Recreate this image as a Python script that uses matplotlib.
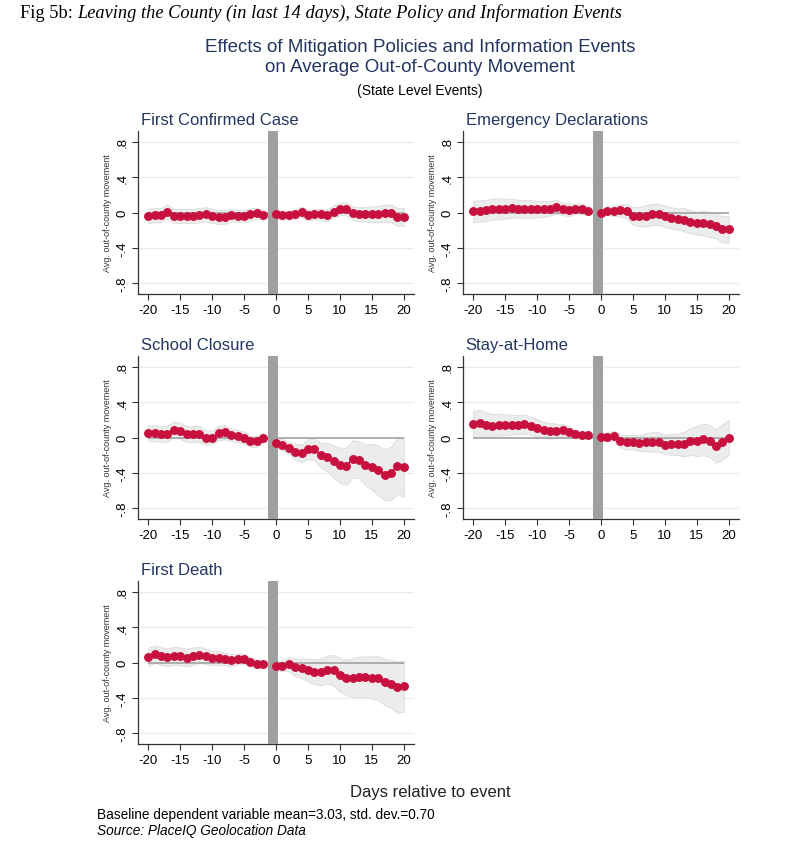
import numpy as np
import matplotlib.pyplot as plt

plt.rcParams['font.family'] = ['Liberation Sans', 'DejaVu Sans']

# Days relative to event (day -1 is the omitted reference period)
days_pre = list(range(-20, -1))
days_post = list(range(0, 21))

titles = ['First Confirmed Case', 'Emergency Declarations', 'School Closure',
          'Stay-at-Home', 'First Death']

# Point estimates, days -20..-2 then 0..20
first_case = [-0.04, -0.03, -0.03, 0.01, -0.04, -0.04, -0.04, -0.04, -0.03, -0.02,
              -0.04, -0.05, -0.05, -0.03, -0.04, -0.04, -0.02, -0.01, -0.03,
              -0.02, -0.03, -0.03, -0.02, 0.01, -0.03, -0.02, -0.02, -0.03, 0.01,
              0.04, 0.04, -0.01, -0.02, -0.02, -0.02, -0.02, -0.01, -0.01, -0.05, -0.05]
first_case_ci = [0.08, 0.08, 0.08, 0.08, 0.08, 0.08, 0.08, 0.08, 0.08, 0.08,
                 0.08, 0.08, 0.08, 0.07, 0.07, 0.07, 0.07, 0.06, 0.06,
                 0.05, 0.05, 0.05, 0.05, 0.06, 0.06, 0.06, 0.06, 0.07, 0.07,
                 0.07, 0.07, 0.08, 0.08, 0.08, 0.09, 0.09, 0.1, 0.1, 0.1, 0.1]

emergency = [0.015, 0.015, 0.025, 0.04, 0.04, 0.04, 0.05, 0.045, 0.04, 0.04,
             0.04, 0.04, 0.045, 0.065, 0.04, 0.03, 0.04, 0.045, 0.015,
             -0.01, 0.02, 0.02, 0.025, 0.015, -0.04, -0.045, -0.04, -0.02, -0.02,
             -0.045, -0.06, -0.075, -0.08, -0.105, -0.12, -0.12, -0.135, -0.15, -0.19, -0.19]
emergency_ci = [0.12, 0.12, 0.12, 0.12, 0.12, 0.11, 0.11, 0.1, 0.1, 0.1,
                0.09, 0.09, 0.08, 0.08, 0.07, 0.07, 0.06, 0.06, 0.05,
                0.04, 0.05, 0.06, 0.07, 0.08, 0.1, 0.11, 0.12, 0.12, 0.12,
                0.12, 0.12, 0.12, 0.13, 0.13, 0.13, 0.14, 0.14, 0.14, 0.15, 0.15]

school = [0.05, 0.05, 0.04, 0.045, 0.09, 0.075, 0.04, 0.04, 0.04, 0.0,
          0.0, 0.05, 0.06, 0.03, 0.015, 0.0, -0.045, -0.045, 0.0,
          -0.06, -0.08, -0.12, -0.16, -0.18, -0.13, -0.135, -0.2, -0.22, -0.27,
          -0.315, -0.325, -0.24, -0.25, -0.31, -0.33, -0.37, -0.42, -0.405, -0.32, -0.33]
school_ci = [0.09, 0.09, 0.09, 0.09, 0.09, 0.09, 0.09, 0.09, 0.09, 0.08,
             0.08, 0.08, 0.08, 0.07, 0.07, 0.07, 0.06, 0.06, 0.05,
             0.05, 0.06, 0.07, 0.09, 0.1, 0.11, 0.12, 0.14, 0.16, 0.18,
             0.2, 0.21, 0.21, 0.21, 0.23, 0.26, 0.28, 0.29, 0.3, 0.32, 0.34]

stay_home = [0.15, 0.16, 0.145, 0.135, 0.145, 0.145, 0.145, 0.145, 0.15, 0.13,
             0.11, 0.085, 0.075, 0.075, 0.08, 0.065, 0.04, 0.025, 0.025,
             0.01, 0.01, 0.02, -0.04, -0.055, -0.05, -0.065, -0.05, -0.05, -0.05,
             -0.08, -0.075, -0.075, -0.075, -0.045, -0.04, -0.02, -0.04, -0.095, -0.05, 0.0]
stay_home_ci = [0.15, 0.15, 0.14, 0.13, 0.12, 0.12, 0.11, 0.11, 0.11, 0.1,
                0.1, 0.09, 0.09, 0.08, 0.07, 0.06, 0.05, 0.04, 0.04,
                0.04, 0.05, 0.06, 0.07, 0.08, 0.08, 0.09, 0.1, 0.11, 0.11,
                0.11, 0.12, 0.12, 0.14, 0.15, 0.17, 0.18, 0.18, 0.19, 0.2, 0.2]

first_death = [0.065, 0.095, 0.07, 0.06, 0.075, 0.07, 0.055, 0.07, 0.085, 0.07,
               0.05, 0.05, 0.04, 0.025, 0.04, 0.04, 0.01, -0.015, -0.02,
               -0.045, -0.035, -0.02, -0.055, -0.065, -0.085, -0.105, -0.105, -0.08, -0.085,
               -0.14, -0.17, -0.17, -0.165, -0.16, -0.17, -0.175, -0.22, -0.24, -0.28, -0.265]
first_death_ci = [0.1, 0.1, 0.1, 0.1, 0.1, 0.1, 0.1, 0.1, 0.09, 0.09,
                  0.08, 0.08, 0.07, 0.07, 0.06, 0.06, 0.05, 0.05, 0.04,
                  0.05, 0.06, 0.08, 0.1, 0.11, 0.13, 0.14, 0.15, 0.16, 0.17,
                  0.19, 0.2, 0.22, 0.23, 0.23, 0.24, 0.25, 0.26, 0.27, 0.29, 0.29]

series = [first_case, emergency, school, stay_home, first_death]
cis = [first_case_ci, emergency_ci, school_ci, stay_home_ci, first_death_ci]

yticks = [-0.8, -0.4, 0, 0.4, 0.8]
ytick_labels = ['-.8', '-.4', '0', '.4', '.8']
xticks = [-20, -15, -10, -5, 0, 5, 10, 15, 20]

red = '#c8103f'
navy = '#24365f'

fig = plt.figure(figsize=(7.89, 8.53), dpi=100)

W, H = 789, 853
positions = [(138, 132), (463, 132), (138, 357), (463, 357), (138, 582)]
ax_w, ax_h = 276, 163

n_pre = len(days_pre)
for i in range(5):
    x0, y0 = positions[i]
    ax = fig.add_axes([x0 / W, 1 - (y0 + ax_h) / H, ax_w / W, ax_h / H])
    est = np.array(series[i])
    ci = np.array(cis[i])

    for d, e, c in [(days_pre, est[:n_pre], ci[:n_pre]), (days_post, est[n_pre:], ci[n_pre:])]:
        ax.fill_between(d, e - c, e + c, color='#ececec', edgecolor='#dcdcdc', lw=0.6, zorder=2)

    ax.hlines(0, days_pre[0], days_post[-1], color='#a8a8a8', lw=1.3, zorder=3)
    ax.axvspan(-1.3, 0.3, color='#a0a0a0', lw=0, zorder=4)

    for d, e in [(days_pre, est[:n_pre]), (days_post, est[n_pre:])]:
        ax.plot(d, e, color=red, lw=1.1, marker='o', ms=5.4, zorder=5)

    for yv in [-0.8, -0.4, 0.4, 0.8]:
        ax.axhline(yv, color='#e3eef2', lw=0.9, zorder=1)

    ax.set_xlim(-21.6, 21.6)
    ax.set_ylim(-0.92, 0.92)
    ax.set_yticks(yticks)
    ax.set_yticklabels(ytick_labels, rotation=90, va='center', fontsize=9.5)
    ax.set_xticks(xticks)
    ax.set_xticklabels([str(t) for t in xticks], fontsize=9.5)
    for s in ['top', 'right']:
        ax.spines[s].set_visible(False)
    for s in ['left', 'bottom']:
        ax.spines[s].set_color('#333333')
        ax.spines[s].set_linewidth(0.9)
    ax.tick_params(direction='out', length=4, width=0.8, color='#333333', pad=3)
    ax.set_ylabel('Avg. out-of-county movement', fontsize=6.5, color='#333333', labelpad=3)
    ax.set_title(titles[i], loc='left', fontsize=12, color=navy, pad=5, x=0.01)

# Header texts
renderer = fig.canvas.get_renderer()
t1 = fig.text(20 / W, 1 - 13 / H, 'Fig 5b: ', family='Liberation Serif', fontsize=13.2, va='center')
bb = t1.get_window_extent(renderer=renderer)
fig.text(bb.x1 / W, 1 - 13 / H, 'Leaving the County (in last 14 days), State Policy and Information Events',
         family='Liberation Serif', style='italic', fontsize=13.2, va='center')
fig.text(420 / W, 1 - 57.5 / H, 'Effects of Mitigation Policies and Information Events\non Average Out-of-County Movement',
         ha='center', va='center', fontsize=13.5, color=navy, linespacing=1.3)
fig.text(420 / W, 1 - 91 / H, '(State Level Events)', ha='center', va='center', fontsize=10)

fig.text(430 / W, 1 - 793 / H, 'Days relative to event', ha='center', va='center', fontsize=12, color='#222222')
fig.text(97 / W, 1 - 815 / H, 'Baseline dependent variable mean=3.03, std. dev.=0.70', va='center', fontsize=9.8)
fig.text(97 / W, 1 - 831 / H, 'Source: PlaceIQ Geolocation Data', va='center', fontsize=9.8, style='italic')

fig.savefig('out.png', dpi=100)
